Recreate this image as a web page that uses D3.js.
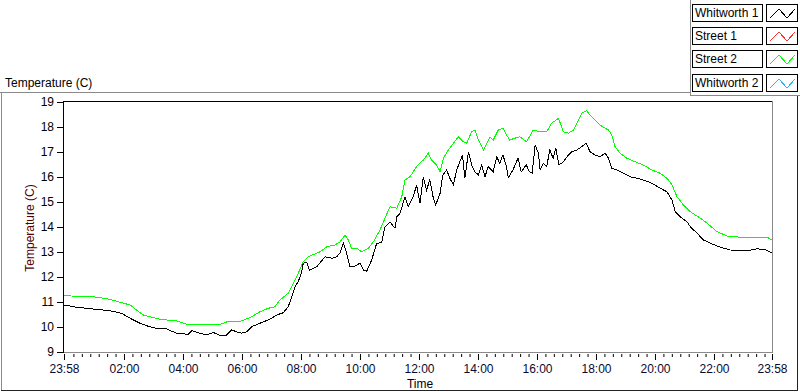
<!DOCTYPE html>
<html>
<head>
<meta charset="utf-8">
<script src="https://cdn.jsdelivr.net/npm/d3@7/dist/d3.min.js"></script>
<style>
  html, body { margin: 0; padding: 0; background: #fff; }
  svg { display: block; font-family: "Liberation Sans", Arial, sans-serif; }
</style>
</head>
<body>
<svg id="chart" width="800" height="392"></svg>
<script>
// ---------------- DATA ----------------
const xTickLabels = ["23:58","02:00","04:00","06:00","08:00","10:00","12:00","14:00","16:00","18:00","20:00","22:00","23:58"];
const yTickValues = [9,10,11,12,13,14,15,16,17,18,19];
const legendNames = ["Whitworth 1","Street 1","Street 2","Whitworth 2"];
const legendColors = ["#000000","#ff3030","#00ff00","#30b0ff"];

// [hours since 23:58, temperature °C]
const whitworth1 = [
 [0,10.88],[0.43,10.79],[0.99,10.72],[1.56,10.65],[1.95,10.55],[2.24,10.35],[2.58,10.15],[2.80,10.05],[3.08,9.96],[3.48,9.92],
 [3.82,9.75],[4.21,9.71],[4.33,9.85],[4.61,9.75],[4.84,9.68],[5.06,9.78],[5.35,9.64],[5.51,9.68],[5.68,9.88],[5.85,9.81],
 [6.02,9.75],[6.19,9.81],[6.36,10.01],[6.64,10.15],[6.98,10.31],[7.21,10.48],[7.43,10.57],[7.60,10.81],[7.72,11.21],[7.83,11.61],
 [7.94,11.81],[8.06,12.21],[8.11,12.55],[8.23,12.59],[8.32,12.28],[8.57,12.41],[8.85,12.81],[9.08,12.75],[9.25,12.81],[9.36,12.97],
 [9.47,13.35],[9.58,12.95],[9.69,12.41],[9.86,12.43],[10.03,12.55],[10.15,12.28],[10.26,12.23],[10.43,12.68],[10.60,13.35],[10.77,13.37],
 [10.88,14.01],[11.05,14.21],[11.22,13.95],[11.28,14.41],[11.39,14.55],[11.56,15.21],[11.67,14.81],[11.84,15.21],[11.95,15.68],[12.07,14.95],
 [12.18,16.01],[12.29,15.48],[12.40,15.88],[12.52,15.15],[12.60,14.88],[12.75,15.35],[12.84,16.08],[12.97,16.28],[13.08,15.95],[13.20,15.68],
 [13.31,16.28],[13.42,16.61],[13.51,16.88],[13.59,15.95],[13.71,17.01],[13.82,16.48],[13.93,16.21],[14.05,16.08],[14.16,16.48],[14.27,16.01],
 [14.38,16.41],[14.55,16.21],[14.67,16.81],[14.77,16.55],[14.88,16.88],[15.00,16.41],[15.06,15.97],[15.22,16.28],[15.39,16.75],[15.50,16.21],
 [15.67,16.48],[15.78,16.21],[15.87,16.15],[15.97,17.28],[16.08,16.95],[16.14,16.28],[16.25,16.55],[16.36,16.41],[16.47,17.08],[16.58,16.75],
 [16.67,17.15],[16.78,16.48],[16.93,16.61],[17.10,16.88],[17.21,17.01],[17.38,17.08],[17.55,17.21],[17.70,17.35],[17.83,17.01],[18.00,16.88],
 [18.17,16.81],[18.34,16.95],[18.46,16.75],[18.57,16.35],[18.74,16.28],[18.96,16.15],[19.19,16.01],[19.42,15.95],[19.64,15.88],[19.93,15.75],
 [20.21,15.55],[20.44,15.41],[20.61,15.08],[20.72,14.61],[20.89,14.41],[21.12,14.21],[21.23,14.01],[21.46,13.75],[21.68,13.48],[21.97,13.32],
 [22.25,13.19],[22.59,13.08],[23.16,13.05],[23.50,13.13],[23.79,13.08],[24.0,12.97]
];
const street2 = [
 [0,11.25],[0.99,11.21],[1.50,11.12],[1.84,11.01],[2.24,10.88],[2.46,10.68],[2.69,10.48],[3.25,10.31],[3.82,10.24],[4.16,10.11],
 [5.29,10.11],[5.51,10.20],[6.02,10.24],[6.36,10.41],[6.64,10.61],[6.93,10.75],[7.15,10.81],[7.32,11.08],[7.60,11.35],[7.77,11.75],
 [7.94,12.15],[8.11,12.61],[8.28,12.81],[8.68,13.01],[8.91,13.21],[9.19,13.28],[9.36,13.41],[9.53,13.68],[9.64,13.48],[9.75,13.15],
 [9.92,13.15],[10.09,13.01],[10.32,13.15],[10.49,13.41],[10.71,13.88],[10.88,14.35],[11.05,14.81],[11.28,14.75],[11.45,15.21],[11.56,15.88],
 [11.73,16.01],[11.95,16.41],[12.18,16.68],[12.35,16.95],[12.46,16.68],[12.63,16.48],[12.75,16.21],[12.86,16.75],[13.03,17.08],[13.20,17.35],
 [13.37,17.61],[13.54,17.41],[13.65,17.35],[13.82,17.81],[13.93,17.88],[14.05,17.48],[14.22,17.08],[14.33,17.35],[14.44,17.61],[14.55,17.48],
 [14.72,17.88],[14.88,17.95],[15.00,17.68],[15.11,17.48],[15.28,17.55],[15.45,17.61],[15.68,17.41],[15.91,17.88],[16.14,17.81],[16.36,17.81],
 [16.53,18.15],[16.76,18.35],[16.93,17.81],[17.10,17.75],[17.27,17.88],[17.44,18.28],[17.55,18.55],[17.72,18.65],[17.83,18.48],[18.00,18.28],
 [18.17,18.08],[18.34,17.95],[18.46,17.88],[18.57,17.68],[18.68,17.21],[18.85,16.95],[19.08,16.75],[19.36,16.61],[19.64,16.48],[19.93,16.28],
 [20.21,16.15],[20.44,15.95],[20.61,15.68],[20.78,15.21],[21.00,14.88],[21.23,14.61],[21.57,14.35],[21.80,14.15],[22.14,13.81],[22.48,13.64],
 [22.93,13.59],[23.39,13.59],[23.84,13.59],[24.0,13.48]
];

// ---------------- CHART ----------------
const svg = d3.select("#chart");
const P = {left: 64, right: 772, top: 102, bottom: 352};

const x = d3.scaleLinear().domain([0, 24]).range([P.left, P.right]);
const y = d3.scaleLinear().domain([9, 19]).range([P.bottom, P.top]);

// label -> hours since start (23:58)
function labelToHours(lbl, i, arr) {
  if (i === arr.length - 1) return 24;
  const [h, m] = lbl.split(":").map(Number);
  const start = 23 * 60 + 58;
  return (((h * 60 + m) - start + 1440) % 1440) / 60;
}
const xTickHours = xTickLabels.map(labelToHours);

// outer frame
svg.append("line").attr("x1", 0).attr("x2", 690).attr("y1", 92.5).attr("y2", 92.5).attr("stroke", "#8a8a8a");
svg.append("line").attr("x1", 1.5).attr("x2", 1.5).attr("y1", 92.5).attr("y2", 390.5).attr("stroke", "#8a8a8a");
svg.append("line").attr("x1", 1).attr("x2", 798).attr("y1", 390.5).attr("y2", 390.5).attr("stroke", "#222");
svg.append("line").attr("x1", 797.5).attr("x2", 797.5).attr("y1", 95).attr("y2", 391).attr("stroke", "#222");
// legend frame
svg.append("line").attr("x1", 690.5).attr("x2", 690.5).attr("y1", 0).attr("y2", 95.5).attr("stroke", "#8a8a8a");
svg.append("line").attr("x1", 690).attr("x2", 800).attr("y1", 95.5).attr("y2", 95.5).attr("stroke", "#8a8a8a");

// top-left title
svg.append("text").attr("x", 5).attr("y", 87).attr("font-size", 12).attr("fill", "#000").text("Temperature (C)");

// plot frame
svg.append("line").attr("x1", P.left - 0.5).attr("x2", P.right).attr("y1", P.top - 0.5).attr("y2", P.top - 0.5).attr("stroke", "#000");
svg.append("line").attr("x1", P.left - 0.5).attr("x2", P.left - 0.5).attr("y1", P.top - 1).attr("y2", P.bottom + 1).attr("stroke", "#000");
svg.append("line").attr("x1", P.right + 0.5).attr("x2", P.right + 0.5).attr("y1", P.top - 1).attr("y2", P.bottom + 1).attr("stroke", "#8a8a8a");
svg.append("line").attr("x1", P.left).attr("x2", P.right + 1).attr("y1", P.bottom + 0.5).attr("y2", P.bottom + 0.5).attr("stroke", "#8a8a8a");

// y axis
const yAxis = d3.axisLeft(y).tickValues(yTickValues).tickSize(6).tickPadding(3).tickFormat(d3.format("d"));
const gy = svg.append("g").attr("transform", `translate(${P.left - 1},0)`).call(yAxis);
gy.select(".domain").remove();
gy.selectAll("text").attr("font-size", 12).attr("font-family", "Liberation Sans, Arial, sans-serif").attr("fill", "#000");
gy.selectAll("line").attr("stroke", "#000");

// x axis minor ticks (6 between majors)
const minorHours = [];
for (let i = 0; i < xTickHours.length - 1; i++) {
  const a = xTickHours[i], b = xTickHours[i + 1];
  const step = 2 / 7;
  if (i === 0) { for (let k = 1; k <= 6; k++) minorHours.push(b - k * step); }
  else { for (let k = 1; k <= 6; k++) minorHours.push(a + k * step); }
}
const gxMinor = svg.append("g").attr("transform", `translate(0,${P.bottom + 2})`)
  .call(d3.axisBottom(x).tickValues(minorHours).tickSize(3).tickFormat(""));
gxMinor.select(".domain").remove();
gxMinor.selectAll("line").attr("stroke", "#000");

const xAxis = d3.axisBottom(x).tickValues(xTickHours).tickSize(6).tickPadding(4)
  .tickFormat((d, i) => xTickLabels[i]);
const gx = svg.append("g").attr("transform", `translate(0,${P.bottom + 2})`).call(xAxis);
gx.select(".domain").remove();
gx.selectAll("line").attr("stroke", "#000");
gx.selectAll("text").attr("font-size", 12).attr("font-family", "Liberation Sans, Arial, sans-serif").attr("fill", "#0a0a30");

// axis titles
svg.append("text").attr("x", 420).attr("y", 388).attr("text-anchor", "middle").attr("font-size", 12).attr("fill", "#000").text("Time");
svg.append("text").attr("transform", `translate(34,${(P.top + P.bottom) / 2 + 1}) rotate(-90)`)
  .attr("text-anchor", "middle").attr("font-size", 12).attr("fill", "#500000").text("Temperature (C)");

// lines (aliased 1px, like the original)
const line = d3.line().x(d => x(d[0])).y(d => y(d[1])).curve(d3.curveLinear);
svg.append("path").datum(street2).attr("d", line).attr("fill", "none").attr("stroke", "#00ff00")
  .attr("stroke-width", 1).attr("shape-rendering", "crispEdges");
svg.append("path").datum(whitworth1).attr("d", line).attr("fill", "none").attr("stroke", "#000")
  .attr("stroke-width", 1).attr("shape-rendering", "crispEdges");

// legend
const rowTops = [4, 27, 50, 74];
const lg = svg.append("g");
legendNames.forEach((name, i) => {
  const t = rowTops[i];
  lg.append("rect").attr("x", 692.5).attr("y", t + 0.5).attr("width", 70).attr("height", 17).attr("fill", "#fff").attr("stroke", "#000");
  lg.append("text").attr("x", 695).attr("y", t + 13).attr("font-size", 12).attr("fill", "#000").text(name);
  lg.append("rect").attr("x", 766.5).attr("y", t + 0.5).attr("width", 31).attr("height", 17).attr("fill", "#fff").attr("stroke", "#000");
  const pts = [[770, t + 14], [779, t + 5], [787, t + 14], [795, t + 5]];
  lg.append("path").attr("d", d3.line()(pts)).attr("fill", "none").attr("stroke", legendColors[i])
    .attr("stroke-width", 1).attr("shape-rendering", "crispEdges");
});
</script>
</body>
</html>
